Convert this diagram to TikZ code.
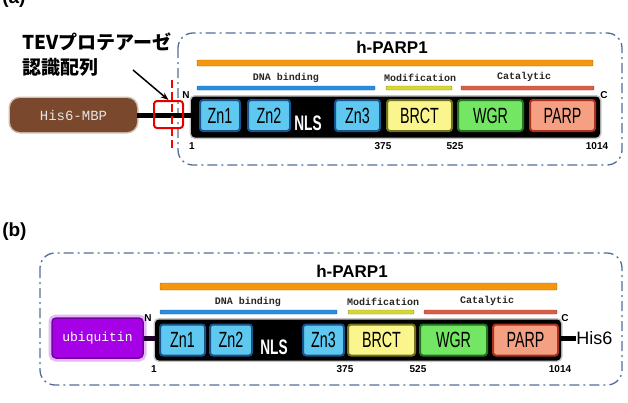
\documentclass[tikz,border=0pt]{standalone}
\usepackage{fontspec}
\setmainfont{Liberation Sans}
\newfontfamily\domfont[FakeStretch=0.65]{Liberation Sans}
\newfontfamily\labfont{Liberation Mono}
\newfontfamily\jpfont{Noto Sans CJK JP}
\usepackage{xcolor}
\usepackage{tikz}
\usetikzlibrary{arrows.meta,calc,positioning}

\definecolor{mbpbrown}{RGB}{122,72,44}
\definecolor{ubqpurple}{RGB}{165,0,230}
\definecolor{zncol}{RGB}{95,200,240}
\definecolor{znedge}{RGB}{25,85,140}
\definecolor{brctcol}{RGB}{250,245,140}
\definecolor{brctedge}{RGB}{115,115,30}
\definecolor{wgrcol}{RGB}{115,230,100}
\definecolor{wgredge}{RGB}{35,115,35}
\definecolor{parpcol}{RGB}{245,160,130}
\definecolor{parpedge}{RGB}{170,50,30}
\definecolor{barorange}{RGB}{245,150,15}
\definecolor{barblue}{RGB}{40,140,225}
\definecolor{baryellow}{RGB}{215,215,50}
\definecolor{barred}{RGB}{215,95,70}
\definecolor{framecol}{RGB}{80,110,150}

\begin{document}
\begin{tikzpicture}[x=1pt,y=-1pt,line width=0.5pt,
    frame/.style={draw=framecol,line width=1.3pt,rounded corners=15pt,
      dash pattern=on 10pt off 4pt on 2pt off 4pt},
    body/.style={fill=black,rounded corners=4pt,inner sep=0pt,minimum height=41pt,
      preaction={draw=black!45,line width=3pt,opacity=0.5}},
    dom/.style={rounded corners=3pt,line width=2pt,inner sep=0pt,minimum height=31pt,
      font={\domfont\fontsize{22}{22}\selectfont}},
    zn/.style={dom,fill=zncol,draw=znedge},
    brct/.style={dom,fill=brctcol,draw=brctedge},
    wgr/.style={dom,fill=wgrcol,draw=wgredge},
    parp/.style={dom,fill=parpcol,draw=parpedge},
    nls/.style={text=white,inner sep=0pt,font={\domfont\bfseries\fontsize{21}{21}\selectfont}},
    bar/.style={line width=0.4pt,rounded corners=1pt},
    lab/.style={inner sep=0pt,text=black!85,font={\labfont\bfseries\fontsize{10}{10}\selectfont}},
    num/.style={inner sep=0pt,font={\bfseries\fontsize{10}{10}\selectfont}},
    title/.style={inner sep=0pt,font={\bfseries\fontsize{17}{17}\selectfont}},
    panel/.style={inner sep=0pt,font={\bfseries\fontsize{19}{19}\selectfont}},
    tag/.style={inner sep=0pt,rounded corners=10pt,font={\labfont\fontsize{14}{14}\selectfont}},
    linker/.style={line width=5pt}]
  \useasboundingbox (0,0) rectangle (628,402);

  % (a)
  \node[panel,anchor=west] (pa) at (2,-1) {(a)};
  \draw[frame] (178,33) rectangle (622,165);
  \node[title] (ta) at (392,47) {h-PARP1};
  \draw[bar,fill=barorange,draw=barorange!70!black] (197,60) rectangle (593,66);
  \draw[bar,fill=barblue,draw=barblue!70!black] (197,86) rectangle (375,90);
  \draw[bar,fill=baryellow,draw=baryellow!70!black] (386,86) rectangle (452,90);
  \draw[bar,fill=barred,draw=barred!70!black] (461,86) rectangle (594,90);
  \node[lab] (dnaa) at (286,78) {DNA binding};
  \node[lab] (moda) at (420,78) {Modification};
  \node[lab] (cata) at (524,77) {Catalytic};

  \node[tag,fill=mbpbrown,text=white!90!black,minimum width=127pt,minimum height=34pt,
    preaction={draw=mbpbrown!60!white,line width=3pt,opacity=0.6}] (mbp) at (73.5,115) {His6-MBP};
  \node[body,minimum width=409pt] (bodya) at (395.5,117) {};
  \draw[linker] (mbp.east) -- (mbp.east -| bodya.west);
  \node[zn,minimum width=40pt] (zn1a) at (220,115.5) {Zn1};
  \node[zn,minimum width=42pt] (zn2a) at (269,115.5) {Zn2};
  \node[nls] (nlsa) at (308,123) {NLS};
  \node[zn,minimum width=45pt] (zn3a) at (357.5,115.5) {Zn3};
  \node[brct,minimum width=65pt] (brcta) at (419.5,115.5) {BRCT};
  \node[wgr,minimum width=65pt] (wgra) at (490.5,115.5) {WGR};
  \node[parp,minimum width=65pt] (parpa) at (562.5,115.5) {PARP};
  \node[num] (na) at (186,95) {N};
  \node[num] (ca) at (604,95) {C};
  \node[num] (s1a) at (192,146) {1};
  \node[num] (s375a) at (383,146) {375};
  \node[num] (s525a) at (455,146) {525};
  \node[num] (s1014a) at (597,146) {1014};

  \node[draw=red!90!black,line width=2pt,rounded corners=3pt,minimum width=29pt,
    minimum height=27pt,inner sep=0pt] (tev) at (168.5,114.5) {};
  \draw[red,line width=2.5pt,dash pattern=on 8pt off 4pt] (172,80) -- (172,150);
  \node[anchor=north west,align=left,inner sep=0pt,
    font={\jpfont\bfseries\fontsize{19}{25}\selectfont}] (tevlbl) at (22,33)
    {TEVプロテアーゼ\\認識配列};
  \coordinate (arrstart) at (133,70);
  \draw[line width=1.5pt,-{Stealth[length=8pt]}] (arrstart) -- (tev.north);

  % (b)
  \node[panel,anchor=west] (pb) at (2,232) {(b)};
  \draw[frame] (40,253) rectangle (622,385);
  \node[title] (tb) at (352,271) {h-PARP1};
  \draw[bar,fill=barorange,draw=barorange!70!black] (160,283) rectangle (557,290);
  \draw[bar,fill=barblue,draw=barblue!70!black] (160,310) rectangle (337,314);
  \draw[bar,fill=baryellow,draw=baryellow!70!black] (348,310) rectangle (414,314);
  \draw[bar,fill=barred,draw=barred!70!black] (424,310) rectangle (557,314);
  \node[lab] (dnab) at (248,302) {DNA binding};
  \node[lab] (modb) at (383,302) {Modification};
  \node[lab] (catb) at (487,301) {Catalytic};

  \node[tag,rounded corners=4pt,fill=ubqpurple,draw=ubqpurple!70!black,line width=1.5pt,
    text=white,font={\labfont\fontsize{13}{13}\selectfont},minimum width=91pt,minimum height=40pt,
    preaction={draw=ubqpurple!35!white,line width=7pt,opacity=0.8}] (ubq) at (97.5,338) {ubiquitin};
  \node[body,minimum width=406pt] (bodyb) at (358,340) {};
  \draw[linker,black!80!ubqpurple] (ubq.east) -- (ubq.east -| bodyb.west);
  \node[zn,minimum width=45pt] (zn1b) at (182.5,340) {Zn1};
  \node[zn,minimum width=42pt] (zn2b) at (231,340) {Zn2};
  \node[nls] (nlsb) at (274,347) {NLS};
  \node[zn,minimum width=41pt] (zn3b) at (323.5,340) {Zn3};
  \node[brct,minimum width=67pt] (brctb) at (381.5,340) {BRCT};
  \node[wgr,minimum width=67pt] (wgrb) at (453.5,340) {WGR};
  \node[parp,minimum width=65pt] (parpb) at (525.5,340) {PARP};
  \node[num] (nb) at (148,318) {N};
  \node[num] (cb) at (565,318) {C};
  \node[num] (s1b) at (154,369) {1};
  \node[num] (s375b) at (345,369) {375};
  \node[num] (s525b) at (418,369) {525};
  \node[num] (s1014b) at (560,369) {1014};
  \node[anchor=west,inner sep=0pt,font={\fontsize{18}{18}\selectfont}] (his) at (576,338) {His6};
  \draw[linker] (bodyb.east |- his.west) -- (his.west);
\end{tikzpicture}
\end{document}
